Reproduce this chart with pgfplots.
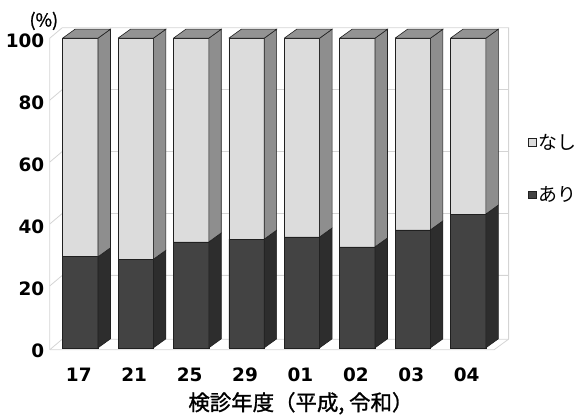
\documentclass[border=0pt]{standalone}
\usepackage{pgfplots}
\usepackage{pgfplotstable}
\pgfplotsset{compat=1.18}
\usepackage{fontspec}
\setmainfont{Noto Sans CJK JP}
\newfontfamily\numfont{DejaVu Sans}
\newfontfamily\labfont[FakeBold=1.2]{Noto Sans CJK JP}

\definecolor{darkfront}{HTML}{434343}
\definecolor{darkside}{HTML}{2D2D2D}
\definecolor{lightfront}{HTML}{DCDCDC}
\definecolor{lightside}{HTML}{8E8E8E}
\definecolor{topface}{HTML}{939393}
\definecolor{edge}{HTML}{202020}
\definecolor{wall}{HTML}{D4D4D4}

% share of "あり" per survey year (%)
\pgfplotstableread{
x ari nashi
0 29.4 70.6
1 28.6 71.4
2 34.2 65.8
3 35.1 64.9
4 35.8 64.2
5 32.6 67.4
6 38.1 61.9
7 43.2 56.8
}\survey

% depth of the bars and of the walls, in axis units
\def\dx{0.225}
\def\dy{2.9}
\def\hw{0.3193}
% wall corners
\def\wl{-0.55}\def\wlb{-0.325}
\def\wr{7.47}\def\wrb{7.73}
\def\wf{-0.6}\def\wfb{2.8}
\def\wt{100}\def\wtb{103.4}

\begin{document}
\begin{tikzpicture}
\begin{axis}[
  scale only axis,
  width=445.9pt, height=310.7pt,
  xmin=-0.55, xmax=7.47,
  ymin=0, ymax=100,
  clip=false,
  axis line style={draw=none},
  major tick length=0pt,
  xtick={0,...,7},
  xticklabels={17,21,25,29,01,02,03,04},
  ytick={0,20,...,100},
  tick label style={font=\fontsize{18.5}{21}\numfont\bfseries},
  /pgf/number format/assume math mode=true,
  yticklabel style={xshift=-2pt, yshift=-2.5pt},
  xticklabel style={yshift=-17pt, xshift=-1.5pt},
  xlabel={検診年度（平成, 令和）},
  xlabel style={font=\fontsize{21.5}{24}\labfont, xshift=29pt, yshift=-3pt},
  legend style={draw=none, fill=none, at={(1.076,0.578)}, anchor=west,
    font=\fontsize{19}{22}\selectfont, row sep=32pt, inner sep=0pt,
    /tikz/every even column/.append style={column sep=2pt}},
  legend cell align=left,
]
% page frame
\path (rel axis cs:-0.1121,-0.2189) rectangle (rel axis cs:1.1841,1.1233);
% back and left walls, floor
\addplot[forget plot, wall, line width=0.8pt] coordinates
  {(\wl,\wf) (\wl,\wt) (\wlb,\wtb) (\wrb,\wtb) (\wrb,\wfb)};
\addplot[forget plot, wall, line width=0.8pt] coordinates
  {(\wl,\wf) (\wr,\wf) (\wrb,\wfb)};
\addplot[forget plot, wall, line width=0.8pt] coordinates
  {(\wl,\wf) (\wlb,\wfb) (\wrb,\wfb)};
\pgfplotsforeachungrouped \g in {20,40,60,80}{%
  \pgfmathsetmacro\gb{\g+3.4}%
  \edef\temp{\noexpand\addplot[forget plot, wall, line width=0.8pt] coordinates
    {(\wl,\g) (\wlb,\gb) (\wrb,\gb)};}%
  \temp
}
% front faces
\addplot[ybar, bar width=35.5pt, bar shift=0pt, fill=lightfront, draw=edge, line width=0.6pt,
  legend image code/.code={\draw[fill=lightfront, draw=edge, line width=0.5pt] (0pt,-3.5pt) rectangle (7.5pt,4pt);}]
  table[x=x, y expr=\thisrow{ari}+\thisrow{nashi}]{\survey};
\addlegendentry{なし}
\addplot[ybar, bar width=35.5pt, bar shift=0pt, fill=darkfront, draw=edge, line width=0.6pt,
  legend image code/.code={\draw[fill=darkfront, draw=edge, line width=0.5pt] (0pt,-3.5pt) rectangle (7.5pt,4pt);}]
  table[x=x, y=ari]{\survey};
\addlegendentry{あり}
% side and top faces
\pgfplotsforeachungrouped \i in {0,...,7}{%
  \pgfplotstablegetelem{\i}{ari}\of\survey
  \let\v\pgfplotsretval
  \pgfplotstablegetelem{\i}{nashi}\of\survey
  \let\n\pgfplotsretval
  \pgfmathsetmacro\xa{\i+\hw}%
  \pgfmathsetmacro\xb{\xa+\dx}%
  \pgfmathsetmacro\xl{\i-\hw}%
  \pgfmathsetmacro\xlb{\xl+\dx}%
  \pgfmathsetmacro\vb{\v+\dy}%
  \pgfmathsetmacro\t{\v+\n}%
  \pgfmathsetmacro\tb{\t+\dy}%
  \edef\temp{%
    \noexpand\addplot[forget plot, fill=darkside, draw=edge, line width=0.6pt] coordinates
      {(\xa,0) (\xb,\dy) (\xb,\vb) (\xa,\v) (\xa,0)};
    \noexpand\addplot[forget plot, fill=lightside, draw=edge, line width=0.6pt] coordinates
      {(\xa,\v) (\xb,\vb) (\xb,\tb) (\xa,\t) (\xa,\v)};
    \noexpand\addplot[forget plot, fill=topface, draw=edge, line width=0.6pt] coordinates
      {(\xl,\t) (\xa,\t) (\xb,\tb) (\xlb,\tb) (\xl,\t)};
  }%
  \temp
}
\node[font=\fontsize{18}{20}\labfont, anchor=center] at (rel axis cs:-0.0135,1.0557) {(\%)};
\end{axis}
\end{tikzpicture}
\end{document}
